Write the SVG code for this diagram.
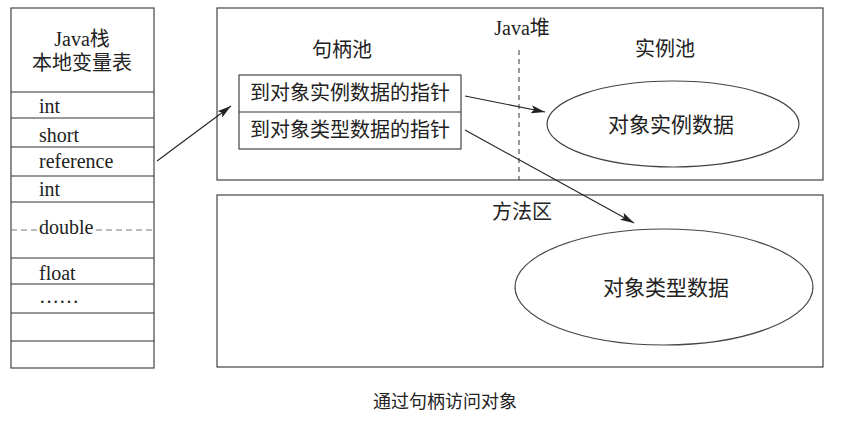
<svg xmlns="http://www.w3.org/2000/svg" width="841" height="421" viewBox="0 0 841 421">
<defs>
<style>
text{font-family:"Liberation Serif","Noto Sans CJK SC",serif;fill:#222;}
.t20{font-size:20px;}
.t21{font-size:21px;}
.mid{text-anchor:middle;}
.box{fill:none;stroke:#444;stroke-width:1.2;}
.ln{stroke:#333;stroke-width:1.2;fill:none;}
.dash{stroke:#777;stroke-width:1;stroke-dasharray:6 4;fill:none;}
.arrow{stroke:#222;stroke-width:1.1;fill:none;marker-end:url(#ah);}
</style>
<marker id="ah" viewBox="0 0 14 8" refX="14" refY="4" markerWidth="14" markerHeight="8" markerUnits="userSpaceOnUse" orient="auto">
<path d="M0,0 L14,4 L0,8 L3,4 Z" fill="#222"/>
</marker>
</defs>
<rect width="841" height="421" fill="#fff"/>

<g id="stack">
<rect class="box" x="11" y="8" width="143" height="360" stroke="#333"/>
<text class="t20 mid" x="82" y="46">Java栈</text>
<text class="t20 mid" x="82" y="70">本地变量表</text>
<line class="ln" x1="11" y1="92" x2="154" y2="92"/>
<line class="ln" x1="11" y1="118" x2="154" y2="118"/>
<line class="ln" x1="11" y1="147" x2="154" y2="147"/>
<line class="ln" x1="11" y1="176" x2="154" y2="176"/>
<line class="ln" x1="11" y1="202" x2="154" y2="202"/>
<line class="ln" x1="11" y1="258" x2="154" y2="258"/>
<line class="ln" x1="11" y1="284" x2="154" y2="284"/>
<line class="ln" x1="11" y1="313" x2="154" y2="313"/>
<line class="ln" x1="11" y1="341" x2="154" y2="341"/>
<line class="dash" x1="11" y1="230" x2="38" y2="230"/>
<line class="dash" x1="96" y1="230" x2="154" y2="230"/>
<text class="t20" x="39" y="113">int</text>
<text class="t20" x="39" y="142">short</text>
<text class="t20" x="39" y="168">reference</text>
<text class="t20" x="39" y="196">int</text>
<text class="t20" x="39" y="234">double</text>
<text class="t20" x="39" y="280">float</text>
<text class="t20" x="39" y="303">……</text>
</g>

<g id="heap">
<rect class="box" x="217" y="8" width="606" height="172"/>
<text class="t20 mid" x="522" y="35">Java堆</text>
<text class="t20 mid" x="342" y="57">句柄池</text>
<text class="t20 mid" x="665" y="56">实例池</text>
<line x1="519" y1="50" x2="519" y2="180" stroke="#333" stroke-width="1" stroke-dasharray="5 4"/>
</g>

<g id="handle">
<rect class="box" x="239" y="75" width="222" height="74"/>
<line class="ln" x1="239" y1="112" x2="461" y2="112" stroke="#444"/>
<text class="t20 mid" x="350" y="100">到对象实例数据的指针</text>
<text class="t20 mid" x="350" y="137">到对象类型数据的指针</text>
</g>

<g id="instance">
<ellipse class="box" cx="673" cy="124" rx="126" ry="43"/>
<text class="t21 mid" x="671" y="132">对象实例数据</text>
</g>

<g id="method">
<rect class="box" x="217" y="195" width="606" height="172"/>
<text class="t20 mid" x="522" y="219">方法区</text>
</g>

<g id="type">
<ellipse class="box" cx="664" cy="287" rx="149" ry="58"/>
<text class="t21 mid" x="666" y="295">对象类型数据</text>
</g>

<g id="connectors">
<line class="arrow" x1="157" y1="161" x2="231" y2="106"/>
<line class="arrow" x1="465" y1="96" x2="545" y2="112"/>
<line class="arrow" x1="465" y1="130" x2="634" y2="223"/>
</g>

<text style="font-size:18px" class="mid" x="445" y="408">通过句柄访问对象</text>
</svg>
